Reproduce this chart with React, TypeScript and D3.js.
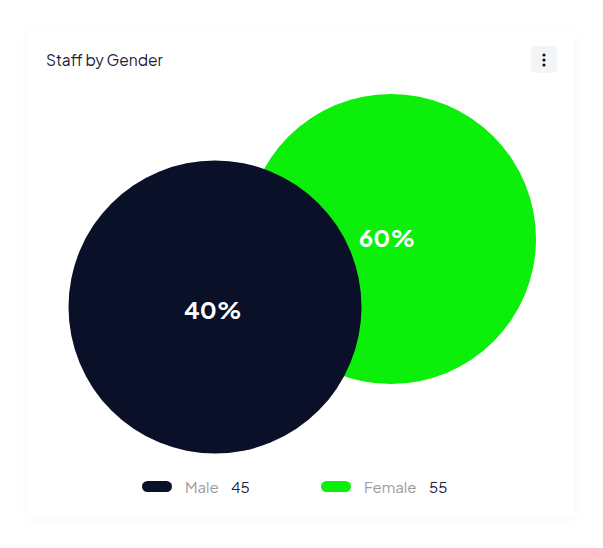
import React from "react";
import * as d3 from "d3";

const categories = ["Male", "Female"];
const counts = [45, 55];
const percentLabels = ["40%", "60%"];
const colors = ["#0b1029", "#0bef0b"];

const W = 603;
const H = 548;

export default function App() {
  const color = d3.scaleOrdinal<string, string>().domain(categories).range(colors);
  // bubble layout positions (layout, not data)
  const cx = d3.scalePoint<string>().domain(categories).range([215, 391]);
  const cy = d3.scaleOrdinal<string, number>().domain(categories).range([307, 239]);
  const r = d3.scaleOrdinal<string, number>().domain(categories).range([146.5, 145]);
  const labelDx = [-2, -4];
  const labelDy = [5.5, 1.5];

  const order = [1, 0]; // female drawn first, male on top
  const font = "'Plus Jakarta Sans', Inter, 'Open Sans', sans-serif";

  const legendX = [142, 321];

  return (
    <div style={{ position: "absolute", left: 0, top: 0 }}>
      <svg width={W} height={H} style={{ display: "block", fontFamily: font }}>
        <defs>
          <filter id="sh" x="-10%" y="-10%" width="120%" height="120%">
            <feDropShadow dx="0" dy="2" stdDeviation="6" floodColor="#000" floodOpacity="0.035" />
          </filter>
        </defs>
        <rect x={0} y={0} width={W} height={H} fill="#ffffff" />
        <rect x={28} y={30} width={547} height={487} rx={8} fill="#ffffff" filter="url(#sh)" />
        <text x={46} y={66} fontSize={15.5} fill="#1b2036">Staff by Gender</text>
        <rect x={531} y={46} width={26} height={27} rx={5} fill="#f3f4f6" />
        {[-5, 0, 5].map((d, i) => (
          <circle key={i} cx={544} cy={60 + d} r={1.6} fill="#0b1029" />
        ))}
        {order.map((i) => {
          const c = categories[i];
          return (
            <g key={c}>
              <circle cx={cx(c)} cy={cy(c)} r={r(c)} fill={color(c)} />
            </g>
          );
        })}
        {order.map((i) => {
          const c = categories[i];
          return (
            <text
              key={c + "l"}
              x={(cx(c) as number) + labelDx[i]}
              y={(cy(c) as number) + labelDy[i]}
              textAnchor="middle"
              dominantBaseline="middle"
              fontSize={24}
              fontWeight={700}
              fill="#ffffff"
            >
              {percentLabels[i]}
            </text>
          );
        })}
        {categories.map((c, i) => (
          <g key={c + "leg"} transform={`translate(${legendX[i]},0)`}>
            <rect x={0} y={481} width={30} height={11} rx={5.5} fill={color(c)} />
            <text x={43} y={493} fontSize={15} fill="#9b9b9b">{c}</text>
            <text x={i === 0 ? 89 : 108} y={493} fontSize={15} fill="#1b2036">{counts[i]}</text>
          </g>
        ))}
      </svg>
    </div>
  );
}
